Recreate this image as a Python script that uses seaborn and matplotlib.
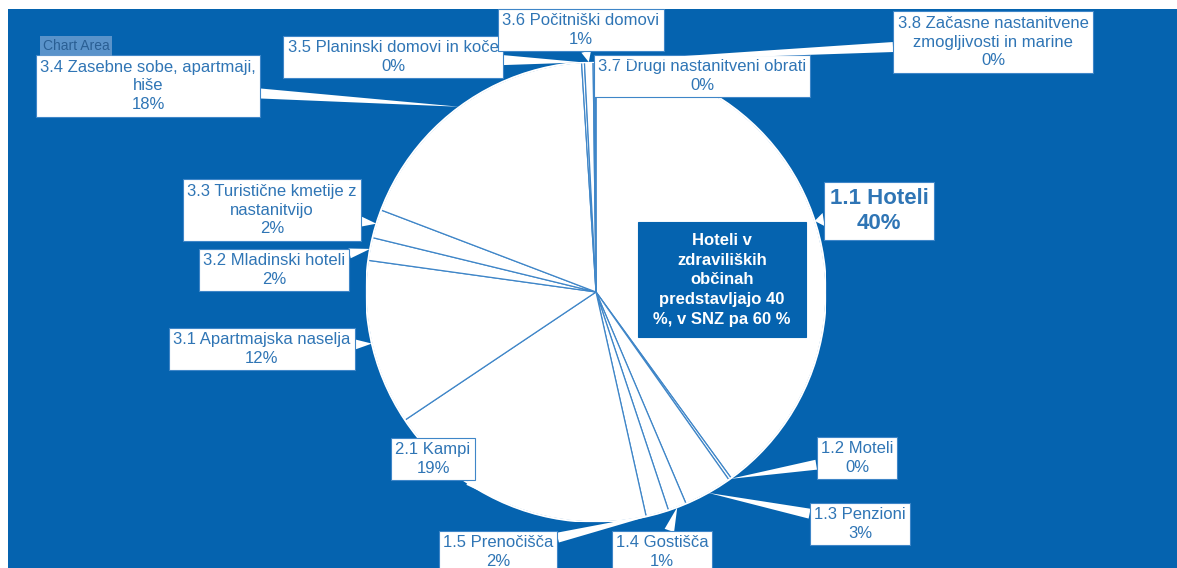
import numpy as np
import matplotlib
matplotlib.use("Agg")
import matplotlib.pyplot as plt
import seaborn as sns
from matplotlib.patches import Rectangle, Circle

# ---------------- data ----------------
categories = [
    "1.1 Hoteli", "1.2 Moteli", "1.3 Penzioni", "1.4 Gostišča", "1.5 Prenočišča",
    "2.1 Kampi", "3.1 Apartmajska naselja", "3.2 Mladinski hoteli",
    "3.3 Turistične kmetije z\nnastanitvijo", "3.4 Zasebne sobe, apartmaji,\nhiše",
    "3.5 Planinski domovi in koče", "3.6 Počitniški domovi",
    "3.7 Drugi nastanitveni obrati", "3.8 Začasne nastanitvene\nzmogljivosti in marine",
]
shares = [40.0, 0.2, 3.4, 1.3, 1.6, 19.1, 11.6, 1.6, 2.0, 18.2, 0.2, 0.6, 0.1, 0.1]
note_text = "Hoteli v\nzdraviliških\nobčinah\npredstavljajo 40\n%, v SNZ pa 60 %"

# ---------------- layout (image pixels, label box centres) ----------------
W, H = 1177, 568
label_pos = [
    (879, 211), (857, 458), (860, 524), (662, 552), (498, 552),
    (433, 459), (262, 349), (274, 270), (272, 210), (148, 86),
    (393, 57), (581, 30), (702, 76), (993, 42),
]

BG = "#0563AF"
TXT = "#2F75B5"
EDGE = "#3F86C8"

sns.set_theme(style="white")
plt.rcParams["font.family"] = ["Liberation Sans", "DejaVu Sans"]

fig = plt.figure(figsize=(W / 100, H / 100), dpi=100)
fig.patch.set_facecolor("white")

# blue chart area as a background axes
bg = fig.add_axes([8 / W, 0, (W - 8) / W, (H - 9) / H], zorder=-5)
bg.set_facecolor(BG)
bg.set_xticks([])
bg.set_yticks([])
for s in bg.spines.values():
    s.set_visible(False)

cx, cy, R = 596, 292, 230
ax = fig.add_axes([(cx - R) / W, (H - cy - R) / H, 2 * R / W, 2 * R / H], zorder=1)
ax.set_facecolor("none")

wedges, _ = ax.pie(shares, startangle=90, counterclock=False, radius=1,
                   colors=["white"] * len(shares),
                   wedgeprops=dict(edgecolor=EDGE, linewidth=0.9))
# outer rim stays white (no coloured outline on the circle itself)
ax.add_patch(Circle((0, 0), 1, fill=False, ec="white", lw=1.4, zorder=3))
ax.set_xlim(-1, 1)
ax.set_ylim(-1, 1)
ax.set_aspect("equal")
ax.axis("off")

total = sum(shares)
for i, (w, lab, v, pos) in enumerate(zip(wedges, categories, shares, label_pos)):
    mid = np.deg2rad((w.theta1 + w.theta2) / 2)
    tip = (np.cos(mid), np.sin(mid))
    pct = f"{int(round(v / total * 100))}%"
    bold = i == 0
    ax.annotate(
        f"{lab}\n{pct}", xy=tip, xycoords="data",
        xytext=(pos[0], H - pos[1]), textcoords="figure pixels",
        ha="center", va="center", ma="center",
        fontsize=16 if bold else 12, fontweight="bold" if bold else "normal",
        color=TXT, linespacing=1.33 if not bold else 1.3,
        bbox=dict(boxstyle="square,pad=0.25", fc="white", ec=EDGE, lw=0.8),
        arrowprops=dict(arrowstyle="wedge,tail_width=0.6,shrink_factor=0.5",
                        fc="white", ec="none", shrinkA=0, shrinkB=0,
                        connectionstyle="arc3"),
        annotation_clip=False, zorder=5 + i * 0.01,
    )

# central note box (fixed-size box like the Excel text box)
ax.add_patch(Rectangle((638, H - 337), 168, 115, transform=None,
                       facecolor=BG, edgecolor=BG, lw=0.8, zorder=9, clip_on=False))
ax.text(722, H - 280, note_text, transform=None, ha="center", va="center", ma="center",
        fontsize=12, fontweight="bold", color="white", linespacing=1.38, zorder=10)

# "Chart Area" tooltip
ax.text(76, H - 46, "Chart Area", transform=None, ha="center", va="center",
        fontsize=10, color="#2A5F94",
        bbox=dict(boxstyle="square,pad=0.2", fc="#6A9CCF", ec="none", alpha=0.85),
        zorder=20)

fig.savefig("out.png", dpi=100, facecolor=fig.get_facecolor())
